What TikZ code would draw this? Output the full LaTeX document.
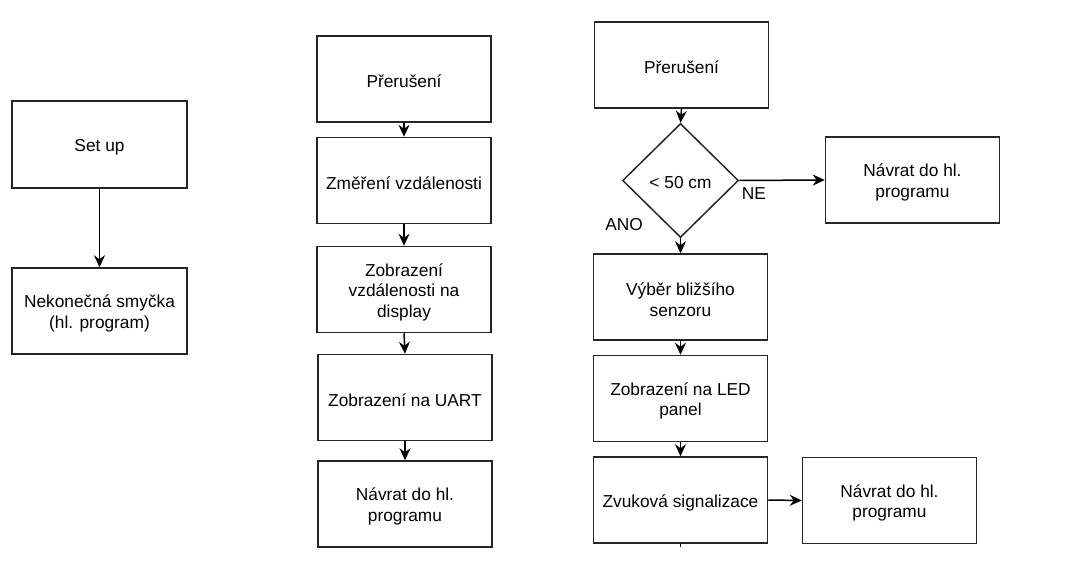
\documentclass[tikz,border=0pt]{standalone}
\usepackage{fontspec}
\setmainfont{Liberation Sans}
\usetikzlibrary{arrows.meta,shapes.geometric}
\tikzset{
  box/.style={draw=black!85, line width=1.5pt, minimum width=174pt, minimum height=86pt, inner sep=0pt},
  dia/.style={draw=black!85, line width=1.5pt, diamond, minimum width=116pt, minimum height=114pt, inner sep=0pt},
  txt/.style={align=center, inner sep=0pt, yshift=-2.5pt, font=\fontsize{17.3}{20.5}\selectfont},
  conn/.style={draw=black, line width=1.5pt, -{Stealth[length=12pt,width=11pt,inset=4pt]}},
  lab/.style={font=\fontsize{17.3}{20.5}\selectfont, inner sep=0pt}
}
\begin{document}
\begin{tikzpicture}[x=1pt,y=-1pt]
\useasboundingbox (0,0) rectangle (1090,562);
% left
\node[box, minimum width=175pt, minimum height=87pt, label={[txt]center:Set up}] (setup) at (99.5,144.5) {};
\node[box, minimum width=175pt, label={[txt]center:Nekonečná smyčka\\(hl. program)}] (loop) at (99.5,311) {};
\draw[conn] (setup) -- (loop);
% middle
\node[box, label={[txt]center:Přerušení}] (m1) at (404,79) {};
\node[box, label={[txt]center:Změření vzdálenosti}] (m2) at (404,180.5) {};
\node[box, label={[txt]center:Zobrazení\\vzdálenosti na\\display}] (m3) at (404,289.5) {};
\node[box, label={[txt]center:Zobrazení na UART}] (m4) at (405,397.5) {};
\node[box, label={[txt]center:Návrat do hl.\\programu}] (m5) at (405,504) {};
\draw[conn] (m1.south) -- (m2.north);
\draw[conn] (m2.south) -- (m3.north);
\draw[conn] (m3.south) -- (m4.north);
\draw[conn] (m4.south) -- (m5.north);
% right
\node[box, label={[txt]center:Přerušení}] (r1) at (681.5,65) {};
\node[dia, label={[txt]center:{<} 50 cm}] (d) at (680.5,180.5) {};
\node[box, label={[txt]center:Návrat do hl.\\programu}] (rn) at (912.5,180) {};
\node[box, label={[txt]center:Výběr bližšího\\senzoru}] (r2) at (680.5,297) {};
\node[box, label={[txt]center:Zobrazení na LED\\panel}] (r3) at (680.5,398.5) {};
\node[box, label={[txt]center:Zvuková signalizace}] (r4) at (680.5,500) {};
\node[box, label={[txt]center:Návrat do hl.\\programu}] (rn2) at (889.5,500.5) {};
\coordinate (stub) at (680.5,547);
\draw[conn] (r1.south) -- (d.north);
\draw[conn] (d.east) -- (rn.west);
\draw[conn] (d.south) -- (r2.north);
\draw[conn] (r2.south) -- (r3.north);
\draw[conn] (r3.south) -- (r4.north);
\draw[conn] (r4.east) -- (rn2.west);
\draw[black, line width=1pt] (r4.south) -- (stub);
\node[lab] (ne) at (754,194) {NE};
\node[lab] (ano) at (624,225) {ANO};
\end{tikzpicture}
\end{document}
